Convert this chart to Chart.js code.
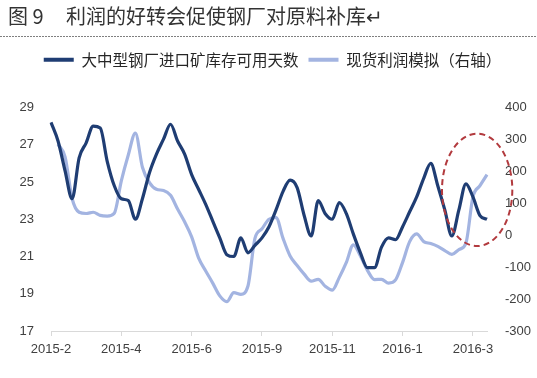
<!DOCTYPE html>
<html>
<head>
<meta charset="utf-8">
<script src="https://cdn.jsdelivr.net/npm/chart.js@4"></script>
<style>
  html, body { margin: 0; padding: 0; background: #fff; }
  #wrap { width: 537px; height: 378px; }
</style>
</head>
<body>
<div id="wrap"><canvas id="stockChart"></canvas></div>
<script>
// axis labels, shown every 10th point
const tickLabels = ["2015-2", "2015-4", "2015-6", "2015-9", "2015-11", "2016-1", "2016-3"];

// 大中型钢厂进口矿库存可用天数 (left axis, days)
const stockDays = [
  28.2, 27.2, 25.6, 24.1, 26.3, 27.1, 28.0, 27.9, 26.1, 24.8,
  24.1, 24.0, 23.0, 24.1, 25.5, 26.5, 27.3, 28.1, 27.2, 26.5,
  25.4, 24.6, 23.8, 22.9, 22.0, 21.1, 21.0, 22.0, 21.2, 21.6,
  22.0, 22.6, 23.5, 24.5, 25.1, 24.7, 23.2, 22.1, 24.0, 23.3,
  23.0, 23.9, 23.3, 22.2, 21.2, 20.4, 20.4, 21.5, 22.0, 21.9,
  22.6, 23.4, 24.2, 25.2, 26.0, 24.8, 23.5, 22.1, 23.5, 24.9,
  24.2, 23.2, 23.0
];

// 现货利润模拟 (right axis)
const profitSim = [
  null, 285, 245, 115, 72, 68, 72, 62, 60, 69,
  170, 252, 320, 213, 165, 144, 140, 125, 82, 42,
  -5, -72, -112, -150, -190, -208, -180, -185, -160, -10,
  20, 50, 55, -10, -65, -95, -122, -144, -138, -160,
  -172, -132, -85, -30, -65, -110, -139, -138, -150, -140,
  -85, -20, 4, -20, -26, -35, -48, -60, -45, -25,
  120, 155, 190
];

const categories = stockDays.map((_, i) => (i % 10 === 0 ? tickLabels[i / 10] : ""));

const DARK = "#1f3d73";
const LIGHT = "#a3b4e1";
const TEXT = "#404040";

// extra room between legend and plot
const legendGap = {
  id: "legendGap",
  beforeInit(chart) {
    const fit = chart.legend.fit;
    chart.legend.fit = function () {
      fit.bind(chart.legend)();
      this.height += 30;
    };
  },
};

// dotted rule under the title + red dashed ring around the latest weeks
const decorPlugin = {
  id: "decor",
  afterDraw(chart) {
    const ctx = chart.ctx;
    const tb = chart.titleBlock;
    const ruleY = Math.round(tb.bottom - 6) + 0.5;
    ctx.save();
    ctx.strokeStyle = "#7f7f7f";
    ctx.lineWidth = 1;
    ctx.setLineDash([2, 1]);
    ctx.beginPath();
    ctx.moveTo(0, ruleY);
    ctx.lineTo(chart.width, ruleY);
    ctx.stroke();

    const x = chart.scales.x;
    const y1 = chart.scales.y1;
    const left = x.getPixelForValue(55.6);
    const right = x.getPixelForValue(65.6);
    const top = y1.getPixelForValue(318);
    const bottom = y1.getPixelForValue(-34);
    ctx.strokeStyle = "#b23a3e";
    ctx.lineWidth = 2;
    ctx.setLineDash([6, 4]);
    ctx.beginPath();
    ctx.ellipse((left + right) / 2, (top + bottom) / 2, (right - left) / 2, (bottom - top) / 2, 0, 0, Math.PI * 2);
    ctx.stroke();
    ctx.restore();
  },
};

document.addEventListener("DOMContentLoaded", () => {
  const ctx = document.getElementById("stockChart");

  new Chart(ctx, {
    type: "line",
    data: {
      labels: categories,
      datasets: [
        {
          label: "大中型钢厂进口矿库存可用天数",
          data: stockDays,
          borderColor: DARK,
          backgroundColor: DARK,
          borderWidth: 3.2,
          pointRadius: 0,
          cubicInterpolationMode: "monotone",
          yAxisID: "y",
        },
        {
          label: "现货利润模拟（右轴）",
          data: profitSim,
          borderColor: LIGHT,
          backgroundColor: LIGHT,
          borderWidth: 3.2,
          pointRadius: 0,
          cubicInterpolationMode: "monotone",
          yAxisID: "y1",
        },
      ],
    },
    options: {
      responsive: true,
      maintainAspectRatio: false,
      animation: false,
      layout: { padding: { left: 8, right: 0, top: 2, bottom: 0 } },
      plugins: {
        title: {
          display: true,
          align: "start",
          text: "图 9     利润的好转会促使钢厂对原料补库↵",
          color: "#333",
          font: { family: "'Noto Sans CJK SC'", size: 20, weight: "normal" },
          padding: { top: 2, bottom: 14 },
        },
        legend: {
          display: true,
          labels: {
            color: "#262626",
            font: { family: "'Noto Sans CJK SC'", size: 15.5 },
            boxWidth: 30,
            boxHeight: 4,
            padding: 10,
            generateLabels(chart) {
              const items = Chart.defaults.plugins.legend.labels.generateLabels(chart);
              items.forEach((it) => {
                it.lineWidth = 0;
              });
              return items;
            },
          },
        },
        tooltip: { enabled: false },
      },
      scales: {
        x: {
          grid: {
            drawOnChartArea: false,
            drawTicks: true,
            tickLength: 5,
            color: (c) => (c.tick && c.tick.label ? "#d9d9d9" : "transparent"),
          },
          border: { display: true, color: "#d9d9d9", width: 1 },
          ticks: {
            autoSkip: false,
            maxRotation: 0,
            padding: 6,
            color: TEXT,
            font: { family: "'Liberation Sans', Arial", size: 13 },
          },
          afterFit(scale) {
            scale.height = 47;
          },
        },
        y: {
          position: "left",
          min: 17,
          max: 29,
          grid: { display: false, drawTicks: false },
          border: { display: false },
          ticks: {
            stepSize: 2,
            padding: 17,
            color: TEXT,
            font: { family: "'Liberation Sans', Arial", size: 13 },
          },
          afterFit(scale) {
            scale.width = 43;
          },
        },
        y1: {
          position: "right",
          min: -300,
          max: 400,
          grid: { display: false, drawTicks: false },
          border: { display: false },
          ticks: {
            stepSize: 100,
            padding: 18,
            color: TEXT,
            font: { family: "'Liberation Sans', Arial", size: 13 },
          },
          afterFit(scale) {
            scale.width = 50;
          },
        },
      },
    },
    plugins: [legendGap, decorPlugin],
  });
});
</script>
</body>
</html>
